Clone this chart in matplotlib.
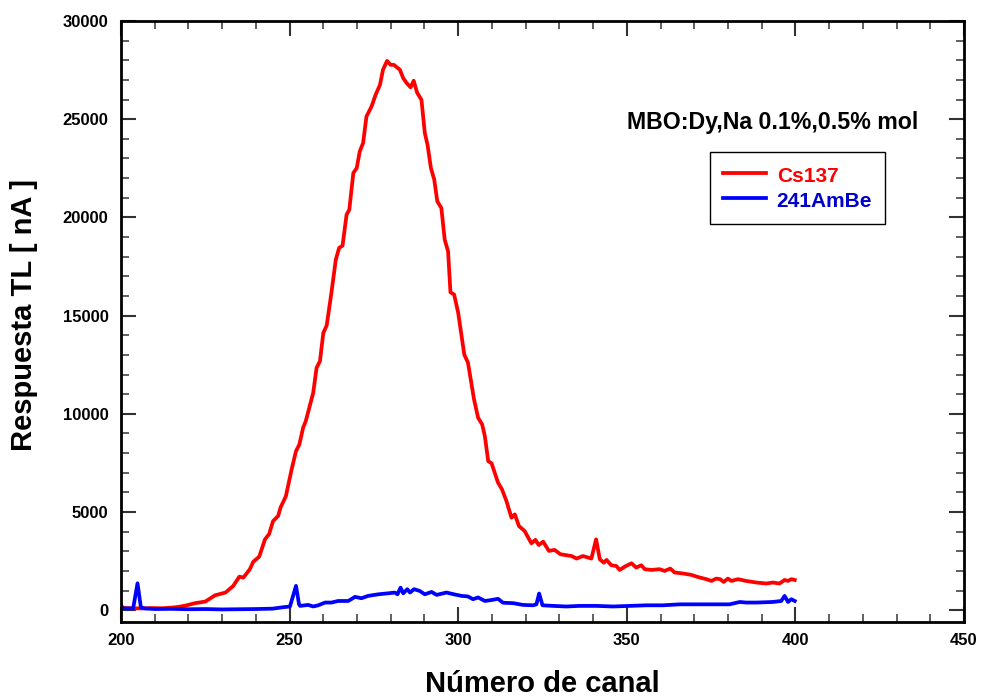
import matplotlib
matplotlib.use("Agg")
import matplotlib.pyplot as plt
from matplotlib.ticker import MultipleLocator

plt.rcParams['font.family'] = ['Liberation Sans', 'DejaVu Sans']

# ---- data ----
cs_channel = [200, 203, 206, 209, 212, 215, 217, 219, 222, 225, 227.9, 231, 233.3, 235.1, 236.3,
              238.2, 239.2, 241, 242.7, 243.9, 245.1, 246.6, 247.3, 248.9, 250.6, 251.9, 252.9,
              254.0, 254.8, 257.0, 258.0, 259.0, 260.0, 261.0, 262.4, 263.7, 264.7, 265.7, 266.9,
              267.7, 268.9, 269.9, 270.8, 271.8, 272.8, 274.3, 275.5, 276.8, 277.7, 278.9, 279.9,
              280.9, 282.7, 283.7, 284.7, 285.9, 286.8, 287.8, 289.1, 290.1, 290.9, 291.9, 292.9,
              293.8, 295.0, 296.0, 297.0, 297.7, 298.8, 300.0, 301.8, 302.9, 304.7, 305.9, 307.1,
              307.9, 308.9, 309.9, 311.8, 313.0, 314.3, 315.8, 316.8, 318.0, 319.7, 321.7, 322.9,
              323.9, 325.2, 326.9, 328.6, 330.3, 332.1, 333.6, 335.1, 337.0, 338.5, 339.5, 340.9,
              342, 343.2, 344, 345.4, 346.9, 347.9, 349.4, 351.4, 352.8, 354.3, 355.3, 357.3, 359.7,
              361.2, 362.9, 364.2, 366.7, 369.1, 371.1, 373.6, 375.1, 376.5, 377.7, 378.7, 380.0,
              381, 383, 385.4, 388.4, 391.4, 393.3, 395.3, 396.8, 397.8, 398.8, 399.8]
cs_value = [120, 100, 90, 110, 100, 130, 170, 230, 360, 440, 760, 900, 1240, 1710, 1660,
            2085, 2460, 2730, 3610, 3870, 4540, 4800, 5220, 5810, 7170, 8100, 8440,
            9290, 9630, 11070, 12340, 12680, 14120, 14500, 16160, 17850, 18450, 18560, 20140,
            20390, 22260, 22510, 23360, 23790, 25140, 25650, 26240, 26750, 27520, 27970, 27770,
            27770, 27520, 27090, 26840, 26620, 26960, 26360, 25990, 24300, 23700, 22520, 21920,
            20820, 20480, 18870, 18270, 16190, 16070, 15140, 13020, 12600, 10730, 9800, 9460,
            8870, 7590, 7480, 6500, 6150, 5560, 4710, 4880, 4290, 4030, 3410, 3580,
            3320, 3490, 3020, 3070, 2850, 2800, 2760, 2630, 2760, 2680, 2630, 3610,
            2590, 2420, 2560, 2290, 2250, 2050, 2220, 2390, 2170, 2290, 2090, 2050, 2090,
            2000, 2120, 1920, 1870, 1800, 1690, 1580, 1490, 1610, 1580, 1440, 1610,
            1490, 1580, 1490, 1410, 1360, 1410, 1360, 1540, 1490, 1580, 1540]

ambe_channel = [200, 200.7, 203.6, 204.9, 205.9, 207.1, 210, 215, 220, 225, 230, 235, 240, 245,
                248, 250.1, 251.9, 252.8, 253.1, 255.5, 257, 258.5, 260.5, 262.4, 264.4, 267.4,
                269.4, 271.3, 273.3, 276.3, 279.2, 281.2, 282, 282.9, 283.7, 284.9, 285.7, 286.9,
                288.6, 290.1, 292.1, 293.6, 296.5, 299, 301, 302.9, 304.4, 305.9, 307.9, 309.9,
                311.8, 313.3, 316.3, 319.2, 322.2, 323.2, 324, 325, 328.1, 332.1, 336, 341,
                345.9, 350.9, 355.8, 360.7, 365.7, 370.6, 375.6, 380.5, 383.5, 385.4, 388.4,
                393.3, 395.8, 396.8, 397.8, 398.8, 399.8]
ambe_value = [250, 90, 90, 1370, 140, 90, 60, 70, 50, 60, 40, 50, 60, 80,
              150, 190, 1240, 300, 220, 270, 190, 250, 390, 390, 470, 470,
              680, 610, 730, 810, 860, 900, 810, 1150, 860, 1070, 900, 1070,
              980, 810, 930, 780, 900, 800, 730, 700, 560, 650, 470, 520,
              580, 380, 360, 270, 250, 300, 850, 250, 220, 190, 220, 220,
              190, 220, 250, 250, 300, 300, 300, 300, 420, 390, 390,
              420, 470, 730, 420, 560, 470]

series_labels = ["Cs137", "241AmBe"]
annotation = "MBO:Dy,Na 0.1%,0.5% mol"

# ---- figure ----
fig = plt.figure(figsize=(9.84, 6.98), dpi=100)
ax = fig.add_axes([121/984, 1-622/698, (964-121)/984, (622-21)/698])

ax.plot(cs_channel, cs_value, color='#ff0000', lw=2.7, label=series_labels[0])
ax.plot(ambe_channel, ambe_value, color='#0000ff', lw=2.7, label=series_labels[1])

ax.set_xlim(200, 450)
ax.set_ylim(-600, 30000)
ax.xaxis.set_major_locator(MultipleLocator(50))
ax.xaxis.set_minor_locator(MultipleLocator(10))
ax.yaxis.set_major_locator(MultipleLocator(5000))
ax.yaxis.set_minor_locator(MultipleLocator(1000))

ax.tick_params(which='both', direction='in', top=True, right=True)
ax.tick_params(which='major', length=11, width=1.5, color='#333333')
ax.tick_params(which='minor', length=5.5, width=1.2, color='#444444')
ax.tick_params(axis='x', which='major', pad=8)
ax.tick_params(axis='y', which='major', pad=9)
for lab in ax.get_xticklabels() + ax.get_yticklabels():
    lab.set_fontsize(12)
    lab.set_fontweight('bold')
for sp in ax.spines.values():
    sp.set_linewidth(2.0)

ax.set_xlabel("Número de canal", fontsize=21, fontweight='bold', labelpad=16)
ax.set_ylabel("Respuesta TL [ nA ]", fontsize=21, fontweight='bold')
ax.yaxis.set_label_coords(-0.099, 0.511)

ax.text(773/984, 1-123/698, annotation, transform=fig.transFigure, ha='center', va='center',
        fontsize=16.7, fontweight='bold')

leg = ax.legend(loc='upper left', bbox_to_anchor=(710/984, 1-152/698),
                bbox_transform=fig.transFigure, borderaxespad=0, frameon=True,
                fancybox=False, edgecolor='black', framealpha=1,
                prop={'weight': 'bold', 'size': 15}, handlelength=2.1,
                handleheight=1.2, handletextpad=0.5, labelspacing=0.15, borderpad=0.6)
leg.get_frame().set_linewidth(1.0)
leg.get_texts()[0].set_color('#ff0000')
leg.get_texts()[1].set_color('#0000cc')

fig.savefig("out.png", dpi=100)
